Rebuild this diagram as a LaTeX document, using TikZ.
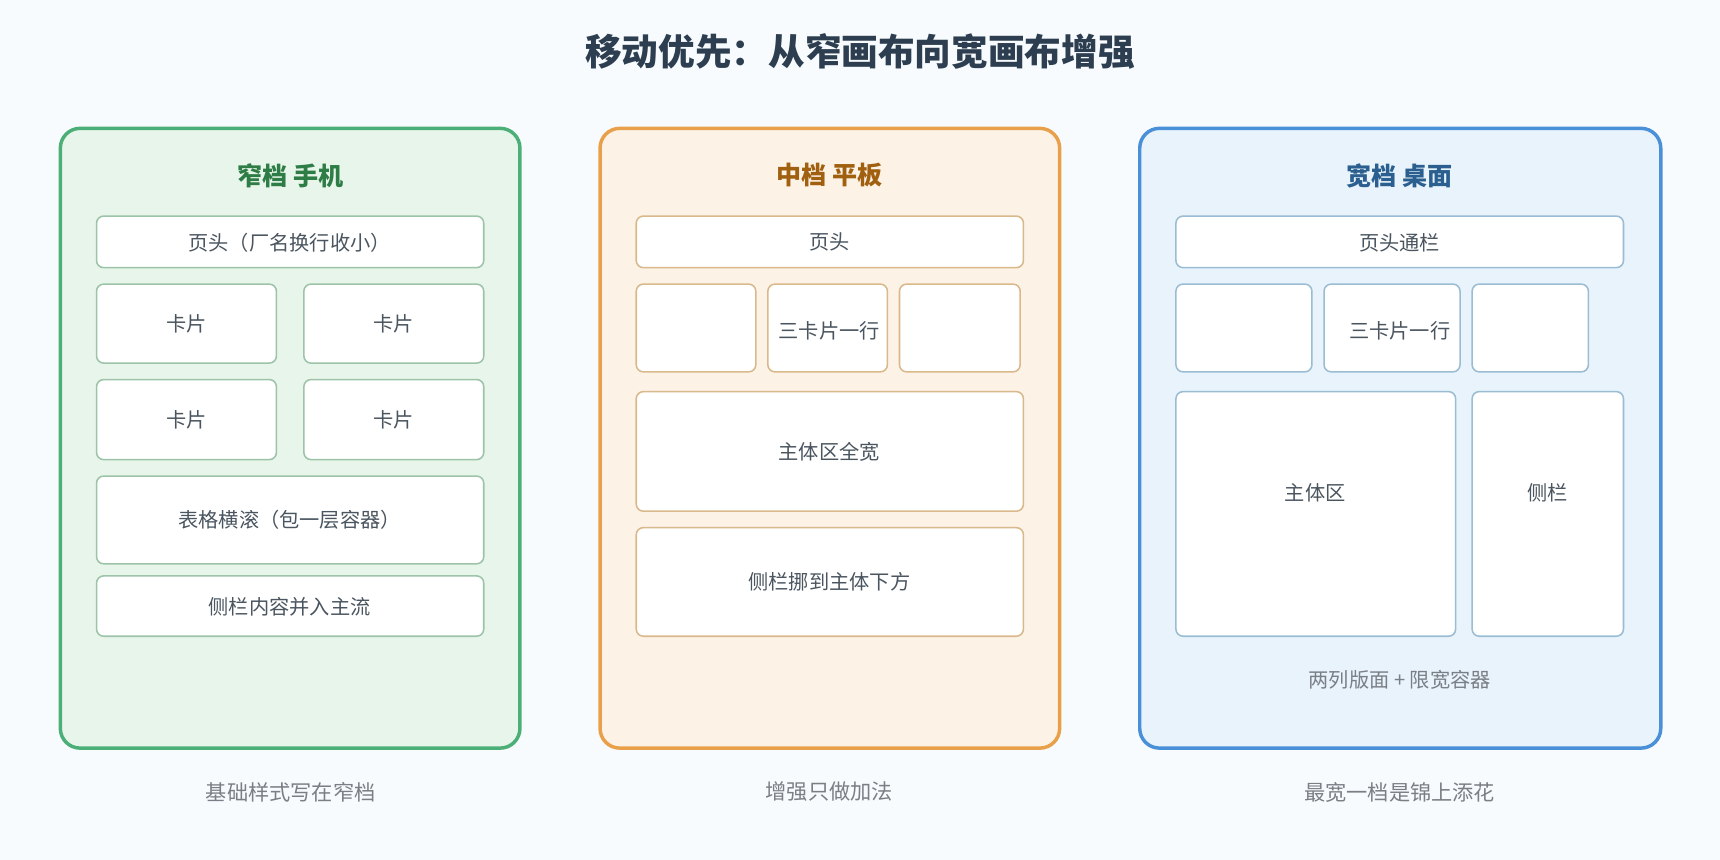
\documentclass[tikz,border=0pt]{standalone}
\usepackage{fontspec}
\setmainfont{Noto Sans CJK SC}
\usetikzlibrary{positioning}
\definecolor{pagebg}{HTML}{F8FBFE}
\definecolor{titlecol}{HTML}{2C3E50}
\definecolor{capcol}{HTML}{7A7F85}
\definecolor{txtcol}{HTML}{4A5560}
\definecolor{gline}{HTML}{4CAF78}\definecolor{gfill}{HTML}{E8F5EA}\definecolor{gtext}{HTML}{2E7D46}\definecolor{gbox}{HTML}{9DC3A8}
\definecolor{oline}{HTML}{E8A04A}\definecolor{ofill}{HTML}{FDF2E6}\definecolor{otext}{HTML}{A0600F}\definecolor{obox}{HTML}{D9B98C}
\definecolor{bline}{HTML}{4A90D9}\definecolor{bfill}{HTML}{E8F3FC}\definecolor{btext}{HTML}{2A5F8F}\definecolor{bbox}{HTML}{9BBDD3}
\begin{document}
\begin{tikzpicture}[
    x=0.02cm, y=-0.02cm,
    panel/.style={draw, line width=1.8pt, rounded corners=0.36cm},
    cell/.style={draw, fill=white, line width=0.8pt, rounded corners=0.13cm},
    label/.style={font=\fontsize{10.5}{12}\selectfont, text=txtcol},
    head/.style={font=\fontsize{13}{15}\selectfont\bfseries},
    caption/.style={font=\fontsize{11}{13}\selectfont, text=capcol}
]
    \fill [pagebg] (0,0) rectangle (1568,784);
    \useasboundingbox (0,0) rectangle (1568,784);
    % Title
    \node [font=\fontsize{19}{22}\selectfont\bfseries, text=titlecol] (title) at (784,47) {移动优先：从窄画布向宽画布增强};

    % Narrow panel
    \draw [panel, draw=gline, fill=gfill] (55,117) rectangle (474,682);
    \node [head, text=gtext] (nhead) at (265,160) {窄档 手机};
    \draw [cell, draw=gbox] (88,197) rectangle (441,244);
    \node [label] (nh) at (264,221) {页头（厂名换行收小）};
    \draw [cell, draw=gbox] (88,259) rectangle (252,331);
    \draw [cell, draw=gbox] (277,259) rectangle (441,331);
    \draw [cell, draw=gbox] (88,346) rectangle (252,419);
    \draw [cell, draw=gbox] (277,346) rectangle (441,419);
    \node [label] (nc1) at (170,295) {卡片};
    \node [label] (nc2) at (359,295) {卡片};
    \node [label] (nc3) at (170,383) {卡片};
    \node [label] (nc4) at (359,383) {卡片};
    \draw [cell, draw=gbox] (88,434) rectangle (441,514);
    \node [label] (ntab) at (264,474) {表格横滚（包一层容器）};
    \draw [cell, draw=gbox] (88,525) rectangle (441,580);
    \node [label] (nside) at (264,553) {侧栏内容并入主流};
    \node [caption] (ncap) at (265,722) {基础样式写在窄档};

    % Medium panel
    \draw [panel, draw=oline, fill=ofill] (547,117) rectangle (966,682);
    \node [head, text=otext] (mhead) at (756,160) {中档 平板};
    \draw [cell, draw=obox] (580,197) rectangle (933,244);
    \node [label] (mh) at (756,221) {页头};
    \draw [cell, draw=obox] (580,259) rectangle (689,339);
    \draw [cell, draw=obox] (700,259) rectangle (809,339);
    \draw [cell, draw=obox] (820,259) rectangle (930,339);
    \node [label] (mcards) at (756,302) {三卡片一行};
    \draw [cell, draw=obox] (580,357) rectangle (933,466);
    \node [label] (mmain) at (756,412) {主体区全宽};
    \draw [cell, draw=obox] (580,481) rectangle (933,580);
    \node [label] (mside) at (756,530) {侧栏挪到主体下方};
    \node [caption] (mcap) at (756,722) {增强只做加法};

    % Wide panel
    \draw [panel, draw=bline, fill=bfill] (1039,117) rectangle (1514,682);
    \node [head, text=btext] (whead) at (1276,160) {宽档 桌面};
    \draw [cell, draw=bbox] (1072,197) rectangle (1480,244);
    \node [label] (wh) at (1276,221) {页头通栏};
    \draw [cell, draw=bbox] (1072,259) rectangle (1196,339);
    \draw [cell, draw=bbox] (1207,259) rectangle (1331,339);
    \draw [cell, draw=bbox] (1342,259) rectangle (1448,339);
    \node [label] (wcards) at (1276,302) {三卡片一行};
    \draw [cell, draw=bbox] (1072,357) rectangle (1327,580);
    \node [label] (wmain) at (1199,449) {主体区};
    \draw [cell, draw=bbox] (1342,357) rectangle (1480,580);
    \node [label] (wside) at (1411,449) {侧栏};
    \node [label, text=capcol] (wnote) at (1276,620) {两列版面 + 限宽容器};
    \node [caption] (wcap) at (1276,722) {最宽一档是锦上添花};
\end{tikzpicture}
\end{document}
